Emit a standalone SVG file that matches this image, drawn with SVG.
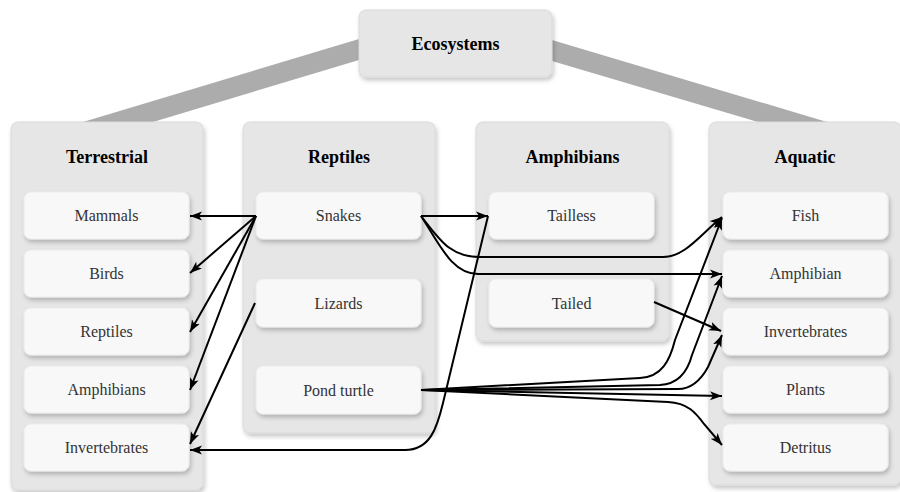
<svg xmlns="http://www.w3.org/2000/svg" width="900" height="492" viewBox="0 0 900 492">
<defs>
<filter id="sh" x="-10%" y="-10%" width="130%" height="130%">
<feDropShadow dx="1.5" dy="3" stdDeviation="2" flood-color="#000" flood-opacity="0.22"/>
</filter>
<marker id="arr" markerWidth="13" markerHeight="10" refX="12" refY="5" orient="auto" markerUnits="userSpaceOnUse">
<path d="M0,0.5 L12,5 L0,9.5 L3,5 Z" fill="#000"/>
</marker>
<style>
.cont{fill:#e6e6e6;stroke:#d9d9d9;stroke-width:1;filter:url(#sh)}
.item{fill:#f8f8f8;stroke:#ececec;stroke-width:1;filter:url(#sh)}
.title{font-family:"Liberation Serif","Times New Roman",serif;font-weight:bold;font-size:18px;fill:#000;text-anchor:middle}
.lbl{font-family:"Liberation Serif","Times New Roman",serif;font-size:16px;fill:#333;text-anchor:middle}
.band{fill:#acacac}
.e{fill:none;stroke:#000;stroke-width:2;marker-end:url(#arr)}
</style>
</defs>
<rect width="900" height="492" fill="#fff"/>

<g id="bands">
<polygon class="band" points="359,39 359,60 153,122 83,122"/>
<polygon class="band" points="552,40 552,61 758,122 827,122"/>
</g>

<g id="ecosystems">
<rect class="cont" x="359" y="10" width="193" height="67" rx="7"/>
<text class="title" x="455.5" y="50">Ecosystems</text>
</g>

<g id="terrestrial">
<rect class="cont" x="11" y="122" width="192" height="368" rx="7"/>
<text class="title" x="107" y="163">Terrestrial</text>
</g>
<g id="t-mammals"><rect class="item" x="24" y="192" width="165" height="47" rx="7"/><text class="lbl" x="106.5" y="221">Mammals</text></g>
<g id="t-birds"><rect class="item" x="24" y="250" width="165" height="47" rx="7"/><text class="lbl" x="106.5" y="279">Birds</text></g>
<g id="t-reptiles"><rect class="item" x="24" y="308" width="165" height="47" rx="7"/><text class="lbl" x="106.5" y="337">Reptiles</text></g>
<g id="t-amphibians"><rect class="item" x="24" y="366" width="165" height="47" rx="7"/><text class="lbl" x="106.5" y="395">Amphibians</text></g>
<g id="t-invertebrates"><rect class="item" x="24" y="424" width="165" height="47" rx="7"/><text class="lbl" x="106.5" y="453">Invertebrates</text></g>

<g id="reptiles">
<rect class="cont" x="243" y="122" width="192" height="311" rx="7"/>
<text class="title" x="339" y="163">Reptiles</text>
</g>
<g id="r-snakes"><rect class="item" x="256" y="192" width="165" height="47" rx="7"/><text class="lbl" x="338.5" y="221">Snakes</text></g>
<g id="r-lizards"><rect class="item" x="256" y="279" width="165" height="48" rx="7"/><text class="lbl" x="338.5" y="309">Lizards</text></g>
<g id="r-pondturtle"><rect class="item" x="256" y="366" width="165" height="48" rx="7"/><text class="lbl" x="338.5" y="396">Pond turtle</text></g>

<g id="amphibians">
<rect class="cont" x="476" y="122" width="193" height="219" rx="7"/>
<text class="title" x="572.5" y="163">Amphibians</text>
</g>
<g id="a-tailless"><rect class="item" x="489" y="192" width="165" height="47" rx="7"/><text class="lbl" x="571.5" y="221">Tailless</text></g>
<g id="a-tailed"><rect class="item" x="489" y="279" width="165" height="48" rx="7"/><text class="lbl" x="571.5" y="309">Tailed</text></g>

<g id="aquatic">
<rect class="cont" x="709" y="122" width="192" height="363" rx="7"/>
<text class="title" x="805" y="163">Aquatic</text>
</g>
<g id="q-fish"><rect class="item" x="723" y="192" width="165" height="47" rx="7"/><text class="lbl" x="805.5" y="221">Fish</text></g>
<g id="q-amphibian"><rect class="item" x="723" y="250" width="165" height="47" rx="7"/><text class="lbl" x="805.5" y="279">Amphibian</text></g>
<g id="q-invertebrates"><rect class="item" x="723" y="308" width="165" height="47" rx="7"/><text class="lbl" x="805.5" y="337">Invertebrates</text></g>
<g id="q-plants"><rect class="item" x="723" y="366" width="165" height="47" rx="7"/><text class="lbl" x="805.5" y="395">Plants</text></g>
<g id="q-detritus"><rect class="item" x="723" y="424" width="165" height="47" rx="7"/><text class="lbl" x="805.5" y="453">Detritus</text></g>

<g id="connectors">
<path class="e" d="M256,216 L190,216"/>
<path class="e" d="M256,216 L190,273"/>
<path class="e" d="M256,216 L190,332"/>
<path class="e" d="M256,216 L190,390"/>
<path class="e" d="M255,303 L190,444"/>
<path class="e" d="M421,216 L488,216"/>
<path class="e" d="M488,216 L443,403 C437,428 430,450 405,450 L190,450"/>
<path class="e" d="M421,216 C440,240 450,257 480,257 L663,257 C685,257 700,235 722,217"/>
<path class="e" d="M421,216 C440,245 452,274 478,274 L722,274"/>
<path class="e" d="M654,302 L721,331"/>
<path class="e" d="M421,390 L640,378 C662,377 670,360 675,340 L722,218"/>
<path class="e" d="M421,390 L660,385 C680,384 688,370 692,355 L722,276"/>
<path class="e" d="M421,390 L678,389 C693,389 702,378 708,367 L722,335"/>
<path class="e" d="M421,390 L722,396"/>
<path class="e" d="M421,390 L668,402 C688,403 696,413 704,424 L722,445"/>
</g>
</svg>
